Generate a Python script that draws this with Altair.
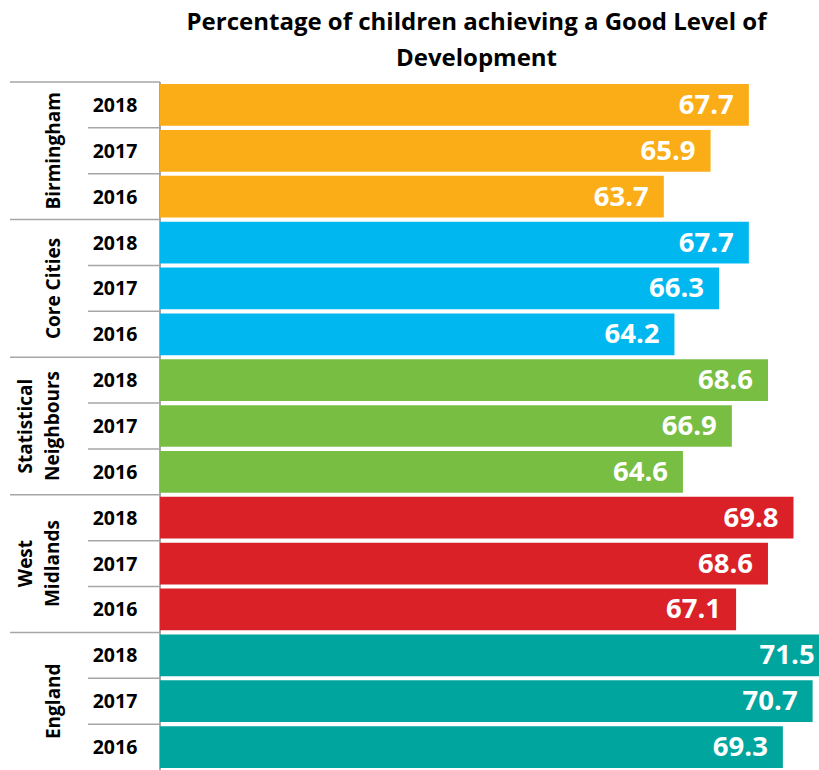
import altair as alt
import pandas as pd

groups = ["Birmingham", "Core Cities", "Statistical Neighbours", "West Midlands", "England"]
group_labels = ["Birmingham", "Core Cities", "Statistical\nNeighbours", "West\nMidlands", "England"]
years = ["2018", "2017", "2016"]
values = {
    "Birmingham": [67.7, 65.9, 63.7],
    "Core Cities": [67.7, 66.3, 64.2],
    "Statistical Neighbours": [68.6, 66.9, 64.6],
    "West Midlands": [69.8, 68.6, 67.1],
    "England": [71.5, 70.7, 69.3],
}
colors = ["#FBAD18", "#00B7EF", "#77BE43", "#DA2128", "#00A59E"]
title_lines = ["Percentage of children achieving a Good Level of", "Development"]

rows = []
for g in groups:
    for y, v in zip(years, values[g]):
        rows.append({"group": g, "year": y, "row": f"{g}|{y}", "value": v})
df = pd.DataFrame(rows)
row_order = list(df["row"])

glab = pd.DataFrame({"group": groups, "label": group_labels,
                     "row": [f"{g}|2017" for g in groups]})
glines = pd.DataFrame({"row": [f"{g}|2018" for g in groups]})
ylines = pd.DataFrame({"row": [f"{g}|{y}" for g in groups for y in ["2017", "2016"]]})

FONT = "Open Sans"
XMIN, XMAX = 40, 71

y_pad = alt.Scale(domain=row_order, paddingInner=0.09, paddingOuter=0.045)
y_flat = alt.Scale(domain=row_order, paddingInner=0, paddingOuter=0)
x_scale = alt.Scale(domain=[XMIN, XMAX], nice=False, zero=False)

base = alt.Chart(df)

bars = base.mark_bar(clip=True).encode(
    x=alt.X("value:Q", scale=x_scale, axis=None),
    y=alt.Y("row:N", scale=y_pad, axis=None),
    color=alt.Color("group:N", scale=alt.Scale(domain=groups, range=colors), legend=None),
)

labels = base.mark_text(align="right", baseline="middle", dx=-15, dy=1, font=FONT,
                        fontWeight="bold", fontSize=27.5, color="white").encode(
    x=alt.X("value:Q", scale=x_scale, axis=None),
    y=alt.Y("row:N", scale=y_pad, axis=None),
    text=alt.Text("value:Q", format=".1f"),
)

year_text = base.mark_text(align="center", baseline="middle", font=FONT,
                           fontWeight="bold", fontSize=19.5, color="black", dy=1).encode(
    x=alt.value(-45),
    y=alt.Y("row:N", scale=y_pad, axis=None),
    text="year:N",
)

label_style = dict(align="center", baseline="bottom", angle=270, font=FONT,
                   fontWeight="bold", fontSize=19, color="black", lineBreak="\n",
                   lineHeight=27)

group_text_single = alt.Chart(glab).transform_filter(
    "indexof(datum.label, '\\n') < 0"
).mark_text(**label_style).encode(
    x=alt.value(-96),
    y=alt.Y("row:N", scale=y_pad, axis=None),
    text="label:N",
)
group_text_multi = alt.Chart(glab).transform_filter(
    "indexof(datum.label, '\\n') >= 0"
).mark_text(**label_style).encode(
    x=alt.value(-124),
    y=alt.Y("row:N", scale=y_pad, axis=None),
    text="label:N",
)

gline = alt.Chart(glines).mark_rule(color="#A6A6A6", strokeWidth=1.5).encode(
    x=alt.value(-150), x2=alt.value(0),
    y=alt.Y("row:N", scale=y_flat, axis=None, bandPosition=0),
)
yline = alt.Chart(ylines).mark_rule(color="#A6A6A6", strokeWidth=1.5).encode(
    x=alt.value(-72), x2=alt.value(0),
    y=alt.Y("row:N", scale=y_flat, axis=None, bandPosition=0),
)
vline = alt.Chart(glines).mark_rule(color="#A6A6A6", strokeWidth=1.5).encode(
    x=alt.value(0), y=alt.value(0), y2=alt.value(688),
)

chart = alt.layer(vline, gline, yline, bars, labels, year_text,
                  group_text_single, group_text_multi).resolve_scale(
    y="independent"
).properties(
    width=659,
    height=688,
    padding={"left": 160, "top": 82, "right": 0, "bottom": 0},
    autosize=alt.AutoSizeParams(type="none"),
    title=alt.TitleParams(text=title_lines, font=FONT, fontSize=24, fontWeight="bold",
                          color="black", anchor="middle", dx=-13, lineHeight=36, offset=10),
).configure_view(stroke=None)

chart.save("out.html", embed_options={"renderer": "svg", "actions": False})
